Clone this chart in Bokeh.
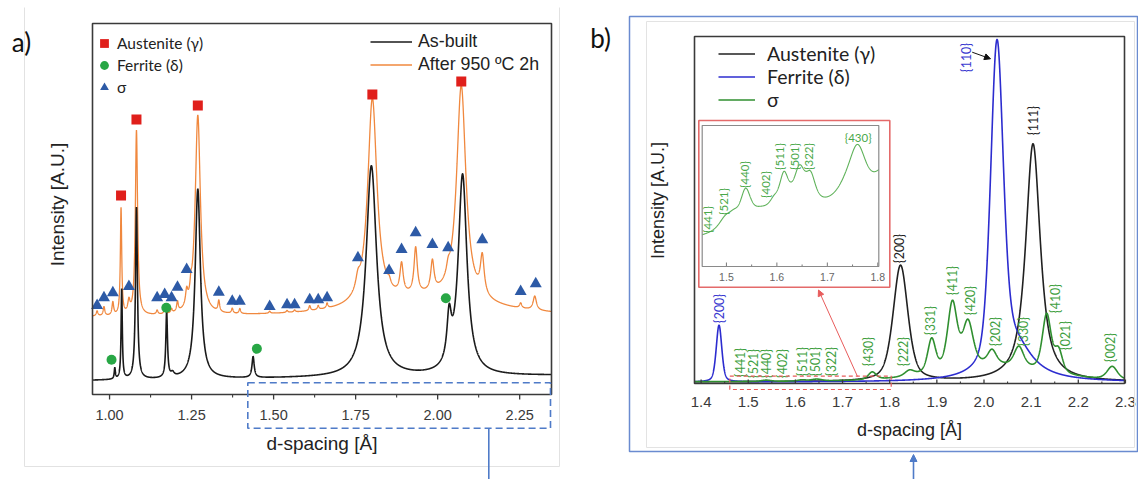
import numpy as np
from bokeh.plotting import figure
from bokeh.models import (Range1d, Legend, LegendItem, BoxAnnotation, Arrow, NormalHead, Label)
from bokeh.core.properties import value
from bokeh.embed import file_html
from bokeh.resources import INLINE

# ======================= DATA : panel a (XRD patterns) =======================
A_XLIM = (0.948, 2.347)
A_YLIM = (0, 371)
A_TICKS = [1.00, 1.25, 1.50, 1.75, 2.00, 2.25]
A_MINOR = [1.125, 1.375, 1.625, 1.875, 2.125]

# As-built pattern: background (left, right) and reflections (d, height, half-width)
ASB_BASE = (14, 19)
ASB_POS = [1.016, 1.037, 1.082, 1.174, 1.192, 1.269, 1.4375, 1.798, 2.035, 2.076]
ASB_AMP = [11, 90, 172, 66, 4, 190, 21, 211, 45, 200]
ASB_HW = [0.002, 0.0022, 0.0035, 0.003, 0.006, 0.0095, 0.004, 0.019, 0.008, 0.016]

# After 950 C 2h pattern
HT_BASE = (77, 77)
HT_POS = [0.962, 0.983, 1.010, 1.035, 1.059, 1.082, 1.145, 1.168, 1.189, 1.207, 1.235,
          1.248, 1.269, 1.333, 1.374, 1.397, 1.488, 1.541, 1.564, 1.610, 1.636, 1.663,
          1.757, 1.801, 1.852, 1.890, 1.933, 1.984, 2.032, 2.072, 2.136, 2.253, 2.296, 1.980]
HT_AMP = [5, 9, 13, 107, 12, 185, 4, 5, 4, 10, 14,
          10, 200, 11, 5, 5, 2, 2, 2, 5, 4, 5,
          12, 207, 6, 30, 46, 30, 9, 215, 38, 5, 14, 18]
HT_HW = [0.003, 0.003, 0.003, 0.0025, 0.004, 0.004, 0.003, 0.003, 0.003, 0.003, 0.004,
         0.003, 0.0095, 0.003, 0.003, 0.003, 0.003, 0.003, 0.003, 0.003, 0.003, 0.003,
         0.008, 0.017, 0.006, 0.006, 0.006, 0.006, 0.006, 0.017, 0.007, 0.004, 0.006, 0.22]

# phase markers
AUS_X = [1.035, 1.082, 1.269, 1.801, 2.072]
AUS_Y = [199, 275, 289, 300, 313]
FER_X = [1.006, 1.173, 1.449, 2.025]
FER_Y = [34.7, 86.7, 45.7, 96.3]
SIG_X = [0.962, 0.983, 1.010, 1.059, 1.145, 1.168, 1.189, 1.207, 1.235, 1.333, 1.374, 1.397,
         1.488, 1.541, 1.564, 1.610, 1.636, 1.663, 1.757, 1.852, 1.890, 1.933, 1.984, 2.032,
         2.136, 2.253, 2.299]
SIG_Y = [89, 96.7, 101.7, 108, 96.7, 100, 96.7, 107.3, 125, 102.3, 93.3, 93.3,
         88, 89.7, 89.7, 94.7, 94.7, 96.7, 136.7, 124, 145, 161.7, 150, 146.7,
         154.7, 103, 110.7]

# ======================= DATA : panel b (phase patterns) =======================
B_XLIM = (1.386, 2.298)
B_YLIM = (0, 347)
B_TICKS = [1.4, 1.5, 1.6, 1.7, 1.8, 1.9, 2.0, 2.1, 2.2, 2.3]
B_MINOR = [1.45, 1.55, 1.65, 1.75, 1.85, 1.95, 2.05, 2.15, 2.25]

GAM_BASE = (1.5, 1.5)
GAM_POS = [1.823, 2.104]
GAM_AMP = [116, 238]
GAM_HW = [0.0185, 0.0185]
GAM_ETA = [0.5, 0.85]

DEL_BASE = (1.3, 1.3)
DEL_POS = [1.438, 2.0275, 2.065]
DEL_AMP = [56.7, 322, 35]
DEL_HW = [0.007, 0.016, 0.045]
DEL_ETA = [0.4, 0.4, 1.0]

SIG_BASE = (1.5, 1.5)
SIGB_POS = [1.538, 1.614, 1.645, 1.763, 1.842, 1.889, 1.933, 1.966, 2.017, 2.074, 2.133,
            2.158, 2.272, 2.020]
SIGB_AMP = [1.2, 1.2, 1.8, 7.5, 5.5, 33, 66, 44, 14, 20, 57, 22, 13, 16]
SIGB_HW = [0.012, 0.010, 0.014, 0.010, 0.012, 0.010, 0.012, 0.013, 0.011, 0.012, 0.011,
           0.010, 0.013, 0.13]

# inset (sigma, 1.45-1.8 A)
INS_XLIM = (1.452, 1.802)
INS_YLIM = (0, 141)
INS_TICKS = [1.5, 1.6, 1.7, 1.8]
INS_MINOR = [1.55, 1.65, 1.75]
INS_BASE = (30, 68.5)
INS_POS = [1.498, 1.515, 1.538, 1.565, 1.594, 1.614, 1.630, 1.645, 1.667, 1.735, 1.760, 1.815]
INS_AMP = [11, 9, 32, 8, 7, 28, 14, 30, 24, 11, 49, 26]
INS_HW = [0.015, 0.012, 0.012, 0.020, 0.010, 0.010, 0.045, 0.012, 0.011, 0.025, 0.020, 0.025]
INS_ETA = [0.6, 0.6, 0.6, 0.6, 0.6, 0.6, 0.0, 0.6, 0.6, 0.6, 0.6, 0.6]

# reflection labels (main panel b)
SIGL_TEXT = ["{441}", "{521}", "{440}", "{402}", "{511}", "{501}", "{322}", "{430}", "{222}",
             "{331}", "{411}", "{420}", "{202}", "{330}", "{410}", "{021}", "{002}"]
SIGL_X = [1.4836, 1.5118, 1.5381, 1.5720, 1.6145, 1.6427, 1.6760, 1.7558, 1.8300,
          1.8866, 1.9327, 1.9715, 2.0245, 2.0846, 2.1518, 2.1730, 2.2685]
SIGL_Y = [21, 20, 20, 20, 22, 22, 22, 32, 32, 63, 103, 83, 52, 52, 85, 48, 36]
DELL_TEXT = ["{200}", "{110}"]
DELL_X = [1.4397, 1.9624]
DELL_Y = [75, 326]
GAML_TEXT = ["{200}", "{111}"]
GAML_X = [1.8209, 2.1058]
GAML_Y = [135, 263]
INSL_TEXT = ["{441}", "{521}", "{440}", "{402}", "{511}", "{501}", "{322}"]
INSL_X = [1.4619, 1.4949, 1.5365, 1.5776, 1.6060, 1.6351, 1.6635]
INSL_Y = [47, 65, 92, 82, 110, 110, 110]
INSL430 = ("{430}", 1.7611, 128.7)

LN2 = np.log(2.0)


def pattern(x, base, pos, amp, hw, eta):
    b0, b1 = base
    y = b0 + (b1 - b0) * (x - x[0]) / (x[-1] - x[0])
    etas = eta if isinstance(eta, (list, tuple)) else [eta] * len(pos)
    for c, a, w, e in zip(pos, amp, hw, etas):
        d2 = (x - c) ** 2
        y = y + a * (e * w * w / (d2 + w * w) + (1 - e) * np.exp(-LN2 * d2 / (w * w)))
    return y


# ---------------- page layout (pixels, origin top-left) ----------------
W, H = 1138, 479
A_BOX = (92, 551, 23, 394)      # left, right, top, bottom of panel a frame
B_BOX = (694, 1124, 36, 383)    # panel b frame
I_BOX = (701.7, 878.3, 125, 266)  # inset frame


def Y(py):
    return H - py


AX_FONT = "Liberation Sans"
CAL_FONT = "Lato"
FRAME_C = "#3a3a3a"
BLUE_DECO = "#4f7bc8"

p = figure(width=W, height=H, x_range=Range1d(0, W), y_range=Range1d(0, H),
           x_axis_type=None, y_axis_type=None, min_border=0, toolbar_location=None,
           output_backend="svg", title=None)
p.outline_line_color = None
p.background_fill_color = "white"


def panel(box, xlim, ylim):
    l, r, t, b = box
    return p.subplot(x_source=Range1d(*xlim), y_source=Range1d(*ylim),
                     x_target=Range1d(l, r), y_target=Range1d(Y(b), Y(t)))


def axes(sub, xlim, ylim, ticks, minor, fmt, direction, major_len, minor_len,
         label_off, font_size):
    n, m = len(ticks), len(minor)
    sub.segment(x0=ticks, y0=[ylim[0]] * n, x1=ticks, y1=[ylim[0] + direction * major_len] * n,
                line_color=FRAME_C, line_width=1.3)
    sub.segment(x0=minor, y0=[ylim[0]] * m, x1=minor, y1=[ylim[0] + direction * minor_len] * m,
                line_color=FRAME_C, line_width=1.1)
    sub.text(ticks, [ylim[0] - label_off] * n, text=[fmt.format(t) for t in ticks],
             text_align="center", text_baseline="middle", text_font=value(AX_FONT),
             text_font_size=font_size, text_color="#3a3a3a")
    sub.quad(left=xlim[0], right=xlim[1], bottom=ylim[0], top=ylim[1],
             fill_color=None, line_color=FRAME_C, line_width=1.6)


def axis_titles(box, xlab_y, ylab_x, ylab_y, size):
    l, r, t, b = box
    p.add_layout(Label(x=(l + r) / 2, y=Y(xlab_y), text="d-spacing [Å]", text_align="center",
                       text_baseline="middle", text_font=AX_FONT, text_font_size=size,
                       text_color="#222222"))
    p.add_layout(Label(x=ylab_x, y=Y(ylab_y), text="Intensity [A.U.]", angle=np.pi / 2,
                       text_align="center", text_baseline="middle", text_font=AX_FONT,
                       text_font_size=size, text_color="#222222"))


def hline(x0, y0, x1, y1, color, width=1.0, dash="solid", head=None):
    p.add_layout(Arrow(end=head, x_start=x0, y_start=Y(y0), x_end=x1, y_end=Y(y1),
                       line_color=color, line_width=width, line_dash=dash))


def box(l, r, t, b, color, width=1.0, dash="solid", fill=None, level="annotation"):
    p.add_layout(BoxAnnotation(left=l, right=r, top=Y(t), bottom=Y(b),
                               fill_color=fill, fill_alpha=1 if fill else 0,
                               line_color=color, line_alpha=1, line_width=width,
                               line_dash=dash, level=level))


# =============================== PANEL A ===============================
hline(24, 7, 24, 466, "#e2e2e2")
hline(559, 7, 559, 466, "#e2e2e2")
hline(24, 466, 559, 466, "#e2e2e2")

sa = panel(A_BOX, A_XLIM, A_YLIM)
xg_a = np.linspace(A_XLIM[0], A_XLIM[1], 5000)
r_ht = sa.line(xg_a, pattern(xg_a, HT_BASE, HT_POS, HT_AMP, HT_HW, 1.0),
               line_color="#f0883e", line_width=1.3)
r_asb = sa.line(xg_a, pattern(xg_a, ASB_BASE, ASB_POS, ASB_AMP, ASB_HW, 1.0),
                line_color="#1a1a1a", line_width=1.6)
r_aus = sa.scatter(AUS_X, AUS_Y, marker="square", size=10, fill_color="#e01f1b", line_color=None)
r_fer = sa.scatter(FER_X, FER_Y, marker="circle", size=10, fill_color="#28a745", line_color=None)
r_sig = sa.scatter(SIG_X, SIG_Y, marker="triangle", size=12, fill_color="#2d5aa6", line_color=None)
axes(sa, A_XLIM, A_YLIM, A_TICKS, A_MINOR, "{:.2f}", -1, 5, 3, 20, "14.5px")
axis_titles(A_BOX, 443, 57, 204, "19px")

p.add_layout(Legend(items=[LegendItem(label="Austenite (γ)", renderers=[r_aus]),
                           LegendItem(label="Ferrite (δ)", renderers=[r_fer]),
                           LegendItem(label="σ", renderers=[r_sig])],
                    location=(93, 381), glyph_width=22, glyph_height=22, spacing=0,
                    padding=0, margin=0, label_standoff=2, border_line_color=None,
                    background_fill_alpha=0, label_text_font=CAL_FONT,
                    label_text_font_size="15.5px", label_height=22, label_text_color="#222222"))
p.add_layout(Legend(items=[LegendItem(label="As-built", renderers=[r_asb]),
                           LegendItem(label="After 950 ºC 2h", renderers=[r_ht])],
                    location=(370, 403), glyph_width=42, glyph_height=23, spacing=0,
                    padding=0, margin=0, label_standoff=6, border_line_color=None,
                    background_fill_alpha=0, label_text_font=AX_FONT,
                    label_text_font_size="17.8px", label_height=23, label_text_color="#222222"))

box(247.3, 550, 382.3, 427.7, BLUE_DECO, 1.6, "7 4")
hline(488.3, 428, 488.3, 479, BLUE_DECO, 1.6)
p.add_layout(Label(x=21, y=Y(41), text="a)", text_align="center", text_baseline="middle",
                   text_font=CAL_FONT, text_font_size="26px", text_color="#111111"))

# =============================== PANEL B ===============================
box(629, 1137, 16, 451, "#6a8bd0", 1.5)
box(646, 1134, 21, 447, "#e3e3e3", 1)

sb = panel(B_BOX, B_XLIM, B_YLIM)
xg_b = np.linspace(B_XLIM[0], B_XLIM[1], 4000)
r_gam = sb.line(xg_b, pattern(xg_b, GAM_BASE, GAM_POS, GAM_AMP, GAM_HW, GAM_ETA),
                line_color="#202020", line_width=1.6)
r_del = sb.line(xg_b, pattern(xg_b, DEL_BASE, DEL_POS, DEL_AMP, DEL_HW, DEL_ETA),
                line_color="#2c2ccf", line_width=1.6)
r_sigb = sb.line(xg_b, pattern(xg_b, SIG_BASE, SIGB_POS, SIGB_AMP, SIGB_HW, 0.5),
                 line_color="#2f8f2f", line_width=1.6)
axes(sb, B_XLIM, B_YLIM, B_TICKS, B_MINOR, "{:.1f}", 1, 4, 2, 18.7, "15px")
axis_titles(B_BOX, 429, 657, 200, "18px")

p.add_layout(Legend(items=[LegendItem(label="Austenite (γ)", renderers=[r_gam]),
                           LegendItem(label="Ferrite (δ)", renderers=[r_del]),
                           LegendItem(label="σ", renderers=[r_sigb])],
                    location=(718, 368), glyph_width=37, glyph_height=21, spacing=0,
                    padding=0, margin=0, label_standoff=12, border_line_color=None,
                    background_fill_alpha=0, label_text_font=CAL_FONT,
                    label_text_font_size="19.5px", label_height=21, label_text_color="#222222"))

# reflection labels
for xs, ys, txt, col in [(SIGL_X, SIGL_Y, SIGL_TEXT, "#3f9f3f"),
                         (DELL_X, DELL_Y, DELL_TEXT, "#3a3ad0"),
                         (GAML_X, GAML_Y, GAML_TEXT, "#222222")]:
    sb.text(xs, ys, text=txt, angle=np.pi / 2, text_align="center", text_baseline="middle",
            text_font=value(CAL_FONT), text_font_size="12.5px", text_color=col)
hline(971.7, 51.7, 990, 58.3, "#111111", 1,
      head=NormalHead(size=6, fill_color="#111111", line_color="#111111"))

# inset (white background under its glyphs)
box(698.3, 889.3, 120, 286.7, "#e46a6a", 1.6, fill="white", level="underlay")
si = panel(I_BOX, INS_XLIM, INS_YLIM)
xg_i = np.linspace(INS_XLIM[0], INS_XLIM[1], 1500)
si.line(xg_i, pattern(xg_i, INS_BASE, INS_POS, INS_AMP, INS_HW, INS_ETA),
        line_color="#5fb25a", line_width=1.1)
ni, mi = len(INS_TICKS), len(INS_MINOR)
si.segment(x0=INS_TICKS, y0=[0] * ni, x1=INS_TICKS, y1=[4] * ni, line_color="#777777", line_width=1)
si.segment(x0=INS_MINOR, y0=[0] * mi, x1=INS_MINOR, y1=[2] * mi, line_color="#777777", line_width=1)
si.text(INS_TICKS, [-10] * ni, text=[f"{t:.1f}" for t in INS_TICKS], text_align="center",
        text_baseline="middle", text_font=value(AX_FONT), text_font_size="10.5px",
        text_color="#666666")
si.quad(left=INS_XLIM[0], right=INS_XLIM[1], bottom=INS_YLIM[0], top=INS_YLIM[1],
        fill_color=None, line_color="#8a8a8a", line_width=1.2)
si.text(INSL_X, INSL_Y, text=INSL_TEXT, angle=np.pi / 2, text_align="center",
        text_baseline="middle", text_font=value(CAL_FONT), text_font_size="11.5px",
        text_color="#4aa84a")
si.text([INSL430[1]], [INSL430[2]], text=[INSL430[0]], text_align="center",
        text_baseline="middle", text_font=value(CAL_FONT), text_font_size="11.5px",
        text_color="#4aa84a")

# zoom box, arrows, panel letter
box(729.3, 890.7, 375.7, 389, "#e85c5c", 1.2, "4 3")
hline(857, 376, 818, 289.5, "#e85c5c", 1,
      head=NormalHead(size=6, fill_color="#e85c5c", line_color="#e85c5c"))
hline(913, 479, 913, 454, BLUE_DECO, 1.6,
      head=NormalHead(size=7, fill_color=BLUE_DECO, line_color=BLUE_DECO))
p.add_layout(Label(x=600, y=Y(37), text="b)", text_align="center", text_baseline="middle",
                   text_font=CAL_FONT, text_font_size="26px", text_color="#111111"))

open("out.html", "w").write(file_html(p, INLINE))
